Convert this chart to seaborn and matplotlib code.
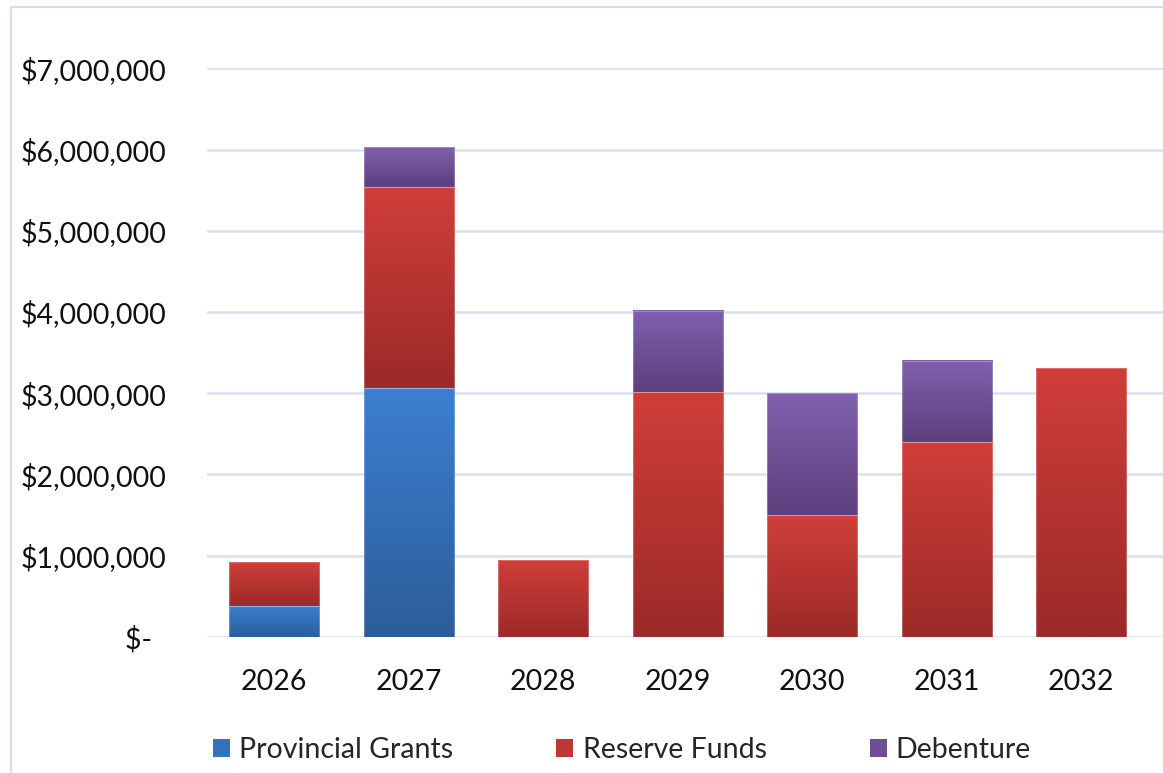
import numpy as np
import pandas as pd
import matplotlib
matplotlib.use("Agg")
import matplotlib.pyplot as plt
import seaborn as sns
from matplotlib.colors import LinearSegmentedColormap
from matplotlib.patches import Patch, Rectangle

# Capital funding by year and source
years = ["2026", "2027", "2028", "2029", "2030", "2031", "2032"]
provincial_grants = [385000, 3070000, 0, 0, 0, 0, 0]
reserve_funds = [540000, 2470000, 940000, 3010000, 1500000, 2400000, 3310000]
debenture = [0, 490000, 0, 1000000, 1500000, 1000000, 0]
series_names = ["Provincial Grants", "Reserve Funds", "Debenture"]

y_ticks = [0, 1000000, 2000000, 3000000, 4000000, 5000000, 6000000, 7000000]
y_tick_labels = ["$-  ", "$1,000,000", "$2,000,000", "$3,000,000",
                 "$4,000,000", "$5,000,000", "$6,000,000", "$7,000,000"]

# (bottom colour, top colour, legend colour) for each source
shades = {
    "Provincial Grants": ("#2C5D99", "#3C7FD1", "#3572BE"),
    "Reserve Funds": ("#9B2A28", "#D03E39", "#BE3733"),
    "Debenture": ("#5C3F7D", "#8060AD", "#6E4F96"),
}

df = pd.DataFrame({"Year": years,
                   "Provincial Grants": provincial_grants,
                   "Reserve Funds": reserve_funds,
                   "Debenture": debenture})

sns.set_theme(style="white")
plt.rcParams["font.family"] = ["Lato", "DejaVu Sans"]

W, H = 1163, 773
fig = plt.figure(figsize=(W / 100, H / 100), dpi=100)
ax_left, ax_right, ax_top, ax_bottom = 207, 1163, 68.4, 636.8
ax = fig.add_axes([ax_left / W, 1 - ax_bottom / H,
                   (ax_right - ax_left) / W, (ax_bottom - ax_top) / H])

grad = np.linspace(0, 1, 256).reshape(-1, 1)
bottom = np.zeros(len(years))
for name in series_names:
    lo, hi, mid = shades[name]
    cmap = LinearSegmentedColormap.from_list(name, [lo, hi])
    n_before = len(ax.patches)
    sns.barplot(data=df, x="Year", y=name, color=mid, saturation=1,
                width=0.67, errorbar=None, ax=ax)
    vals = df[name].to_numpy(dtype=float)
    for p, b, v in zip(ax.patches[n_before:], bottom, vals):
        p.set_y(b)
        p.set_height(v)
        if v <= 0:
            p.set_visible(False)
            continue
        x0, w = p.get_x(), p.get_width()
        ax.imshow(grad, cmap=cmap, origin="lower", aspect="auto",
                  extent=[x0, x0 + w, b, b + v], zorder=2, interpolation="bilinear")
        p.set_facecolor("none")
        p.set_edgecolor((1, 1, 1, 0.25))
        p.set_linewidth(0.8)
        p.set_zorder(3)
    bottom += vals

centre_step = (1081 - 274) / 6
ax.set_xlim(-0.5, 6 + (ax_right - 1081) / centre_step)
ax.set_ylim(0, 7000000)
ax.set_aspect("auto")

fs = 20.5
ax.set_yticks(y_ticks)
ax.set_yticklabels(y_tick_labels)
ax.set_xlabel("")
ax.set_ylabel("")
ax.yaxis.grid(True, color="#D6E1F1", linewidth=1.8)
ax.set_axisbelow(True)
for s in ax.spines.values():
    s.set_visible(False)
ax.tick_params(axis="y", length=0, pad=29, labelsize=fs, labelcolor="#111111")
ax.tick_params(axis="x", length=0, pad=23, labelsize=fs, labelcolor="#111111")

# Chart area outline
fig.add_artist(Rectangle((11 / W, -0.2), 2.0, 1.2 - 7 / H, transform=fig.transFigure,
                         fill=False, edgecolor="#D3DEEF", linewidth=1.6))

handles = [Patch(facecolor=shades[n][2], edgecolor="none", label=n) for n in series_names]
fig.legend(handles=handles, loc="center left", ncol=3, frameon=False,
           bbox_to_anchor=(213 / W, 1 - 750 / H), borderpad=0, borderaxespad=0,
           fontsize=fs, handlelength=0.6, handleheight=0.6,
           handletextpad=0.32, columnspacing=3.62)

fig.savefig("out.png", dpi=100)
